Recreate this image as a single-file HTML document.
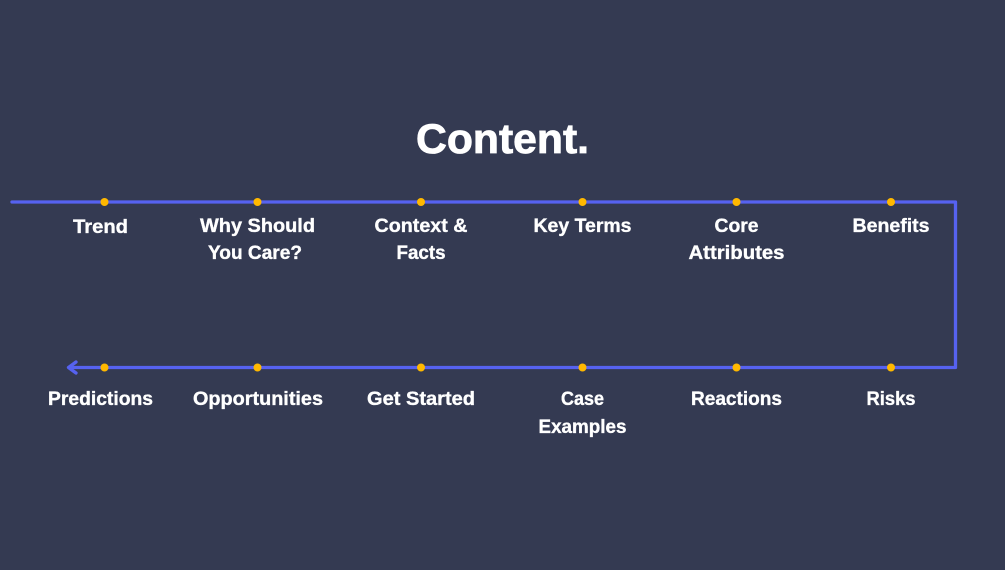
<!DOCTYPE html>
<html>
<head>
<meta charset="utf-8">
<style>
html,body{margin:0;padding:0;background:#343a52;}
svg{display:block;}
text{font-family:"Liberation Sans",sans-serif;font-weight:700;fill:#fff;stroke:#fff;stroke-width:.35px;text-anchor:middle;}
.l{font-size:19px;}
</style>
</head>
<body>
<svg width="1005" height="570" viewBox="0 0 1005 570" xmlns="http://www.w3.org/2000/svg">
<rect width="1005" height="570" fill="#343a52"/>
<text x="502.500" y="153" font-size="42" textLength="173" lengthAdjust="spacingAndGlyphs" style="stroke-width:.8px">Content.</text>
<path d="M12 202H955.500V367.500H69" fill="none" stroke="#5662f0" stroke-width="3.300" stroke-linecap="round" stroke-linejoin="round"/>
<path d="M76 362L68.500 367.500L76 373" fill="none" stroke="#5662f0" stroke-width="3.300" stroke-linecap="round" stroke-linejoin="round"/>
<g fill="#ffb800">
<circle cx="104.500" cy="202" r="4"/><circle cx="257.500" cy="202" r="4"/><circle cx="421" cy="202" r="4"/><circle cx="582.500" cy="202" r="4"/><circle cx="736.500" cy="202" r="4"/><circle cx="891" cy="202" r="4"/>
<circle cx="104.500" cy="367.500" r="4"/><circle cx="257.500" cy="367.500" r="4"/><circle cx="421" cy="367.500" r="4"/><circle cx="582.500" cy="367.500" r="4"/><circle cx="736.500" cy="367.500" r="4"/><circle cx="891" cy="367.500" r="4"/>
</g>
<g class="l">
<text class="l" x="100.500" y="233" textLength="55" lengthAdjust="spacingAndGlyphs">Trend</text>
<text class="l" x="257.500" y="232" textLength="115" lengthAdjust="spacingAndGlyphs">Why Should</text>
<text class="l" x="255" y="259" textLength="94" lengthAdjust="spacingAndGlyphs">You Care?</text>
<text class="l" x="421" y="232" textLength="93" lengthAdjust="spacingAndGlyphs">Context &amp;</text>
<text class="l" x="421" y="259" textLength="49" lengthAdjust="spacingAndGlyphs">Facts</text>
<text class="l" x="582.500" y="232" textLength="98" lengthAdjust="spacingAndGlyphs">Key Terms</text>
<text class="l" x="736.500" y="232" textLength="44" lengthAdjust="spacingAndGlyphs">Core</text>
<text class="l" x="736.500" y="259" textLength="96" lengthAdjust="spacingAndGlyphs">Attributes</text>
<text class="l" x="891" y="232" textLength="77" lengthAdjust="spacingAndGlyphs">Benefits</text>
<text class="l" x="100.500" y="405" textLength="105" lengthAdjust="spacingAndGlyphs">Predictions</text>
<text class="l" x="258" y="405" textLength="130" lengthAdjust="spacingAndGlyphs">Opportunities</text>
<text class="l" x="421" y="405" textLength="108" lengthAdjust="spacingAndGlyphs">Get Started</text>
<text class="l" x="582.500" y="405" textLength="43" lengthAdjust="spacingAndGlyphs">Case</text>
<text class="l" x="582.500" y="433" textLength="88" lengthAdjust="spacingAndGlyphs">Examples</text>
<text class="l" x="736.500" y="405" textLength="91" lengthAdjust="spacingAndGlyphs">Reactions</text>
<text class="l" x="891" y="405" textLength="49" lengthAdjust="spacingAndGlyphs">Risks</text>
</g>
</svg>
</body>
</html>
